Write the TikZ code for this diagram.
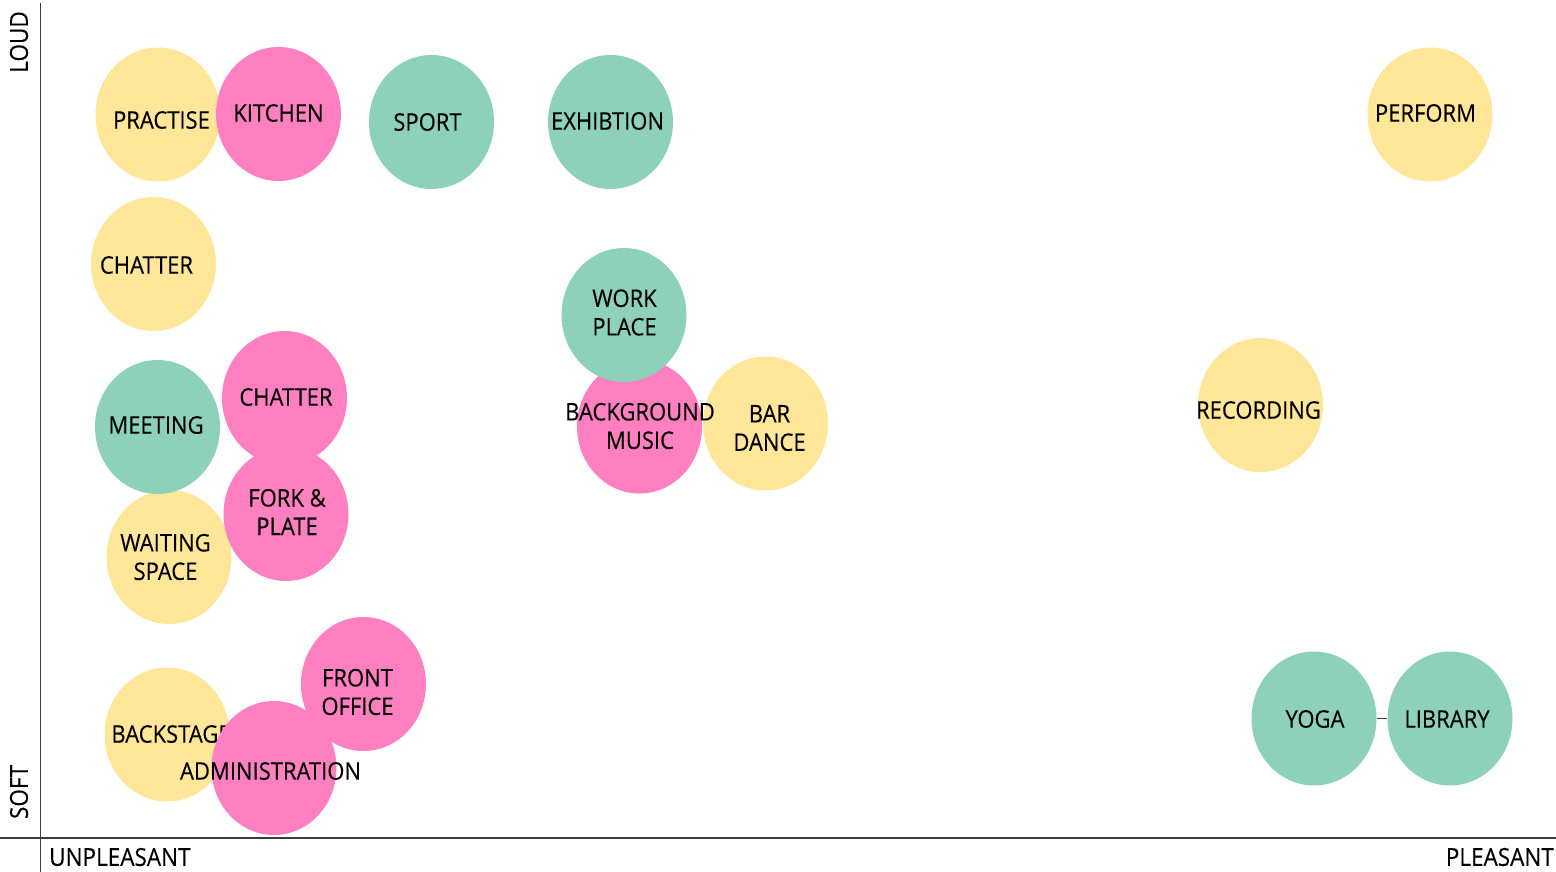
\documentclass[tikz,border=0pt]{standalone}
\usepackage{graphicx}
\usepackage{fontspec}
\setmainfont{Open Sans}
\newfontfamily\labelfont[FakeBold=0.25]{Open Sans}
\usetikzlibrary{shapes.geometric}

\definecolor{sunny}{RGB}{255,230,153}
\definecolor{rose}{RGB}{255,128,192}
\definecolor{mint}{RGB}{141,209,186}
\definecolor{axisgray}{RGB}{60,60,60}

% slightly tall lettering
\newcommand{\tall}[1]{\scalebox{1}[1.1]{#1}}

\tikzset{
  blob/.style={ellipse, draw=none, minimum width=125pt, minimum height=134pt, inner sep=0pt},
  yblob/.style={blob, fill=sunny},
  pblob/.style={blob, fill=rose},
  gblob/.style={blob, fill=mint},
  tag/.style={inner sep=0pt, align=center, font=\labelfont\fontsize{22}{28.5}\selectfont, text=black},
  axisname/.style={inner sep=0pt, font=\labelfont\fontsize{22.5}{28}\selectfont, text=black},
  axisline/.style={draw=axisgray, line width=1.3pt}
}

\begin{document}
\begin{tikzpicture}[x=1pt, y=-1pt]
  \useasboundingbox (0,0) rectangle (1556,872);

  % axes
  \coordinate (vtop) at (40.5,3);
  \coordinate (vbot) at (40.5,872);
  \coordinate (hleft) at (0,838);
  \coordinate (hright) at (1556,838);
  \draw[axisline] (vtop) -- (vbot);
  \draw[axisline] (hleft) -- (hright);

  \node[axisname, rotate=90] (loud) at (19,42) {\tall{LOUD}};
  \node[axisname, rotate=90] (soft) at (19,792) {\tall{SOFT}};
  \node[axisname, anchor=west] (unpleasant) at (49,857) {\tall{UNPLEASANT}};
  \node[axisname, anchor=east] (pleasant) at (1554,857) {\tall{PLEASANT}};

  % top row
  \node[yblob] (practise) at (158,114.5) {};
  \node[pblob] (kitchen) at (278.5,114) {};
  \node[tag] (practise-t) at (161.5,120) {\tall{PRACTISE}};
  \node[tag] (kitchen-t) at (278.5,113) {\tall{KITCHEN}};
  \node[gblob] (sport) at (431.5,122) {};
  \node[tag] (sport-t) at (427.5,122) {\tall{SPORT}};
  \node[gblob] (exhibtion) at (610.5,122) {};
  \node[tag] (exhibtion-t) at (607.5,121) {\tall{EXHIBTION}};
  \node[yblob] (perform) at (1430,114.5) {};
  \node[tag] (perform-t) at (1425.5,113) {\tall{PERFORM}};

  % loud-ish chatter
  \node[yblob] (chatter1) at (153.5,264) {};
  \node[tag] (chatter1-t) at (146.5,265) {\tall{CHATTER}};

  % centre cluster
  \node[yblob] (bardance) at (765.5,423.5) {};
  \node[pblob] (bgmusic) at (639.5,426.5) {};
  \node[gblob] (workplace) at (624,315) {};
  \node[tag] (workplace-t) at (624.5,312.5) {\tall{WORK}\\\tall{PLACE}};
  \node[tag] (bgmusic-t) at (640,426) {\tall{BACKGROUND}\\\tall{MUSIC}};
  \node[tag] (bardance-t) at (769.5,428) {\tall{BAR}\\\tall{DANCE}};

  \node[yblob] (recording) at (1260.5,405) {};
  \node[tag] (recording-t) at (1258.5,410) {\tall{RECORDING}};

  % left middle cluster
  \node[yblob] (waiting) at (169,557) {};
  \node[gblob] (meeting) at (157.5,427) {};
  \node[pblob] (chatter2) at (284.5,398) {};
  \node[pblob] (fork) at (286,514) {};
  \node[tag] (meeting-t) at (156,425) {\tall{MEETING}};
  \node[tag] (chatter2-t) at (286,397) {\tall{CHATTER}};
  \node[tag] (fork-t) at (287,512) {\tall{FORK \&}\\\tall{PLATE}};
  \node[tag] (waiting-t) at (165.5,557) {\tall{WAITING}\\\tall{SPACE}};

  % bottom left cluster
  \node[yblob] (backstage) at (167,734.5) {};
  \node[tag] (backstage-t) at (171,734) {\tall{BACKSTAGE}};
  \node[pblob] (frontoffice) at (363.5,684) {};
  \node[pblob] (admin) at (274,768) {};
  \node[tag] (frontoffice-t) at (357.5,692) {\tall{FRONT}\\\tall{OFFICE}};
  \node[tag] (admin-t) at (270.5,771) {\tall{ADMINISTRATION}};

  % bottom right pair
  \node[gblob] (yoga) at (1314,718.5) {};
  \node[gblob] (library) at (1450,718.5) {};
  \draw[draw=axisgray, line width=1pt] (yoga) -- (library);
  \node[tag] (yoga-t) at (1315,719) {\tall{YOGA}};
  \node[tag] (library-t) at (1447,719) {\tall{LIBRARY}};
\end{tikzpicture}
\end{document}
